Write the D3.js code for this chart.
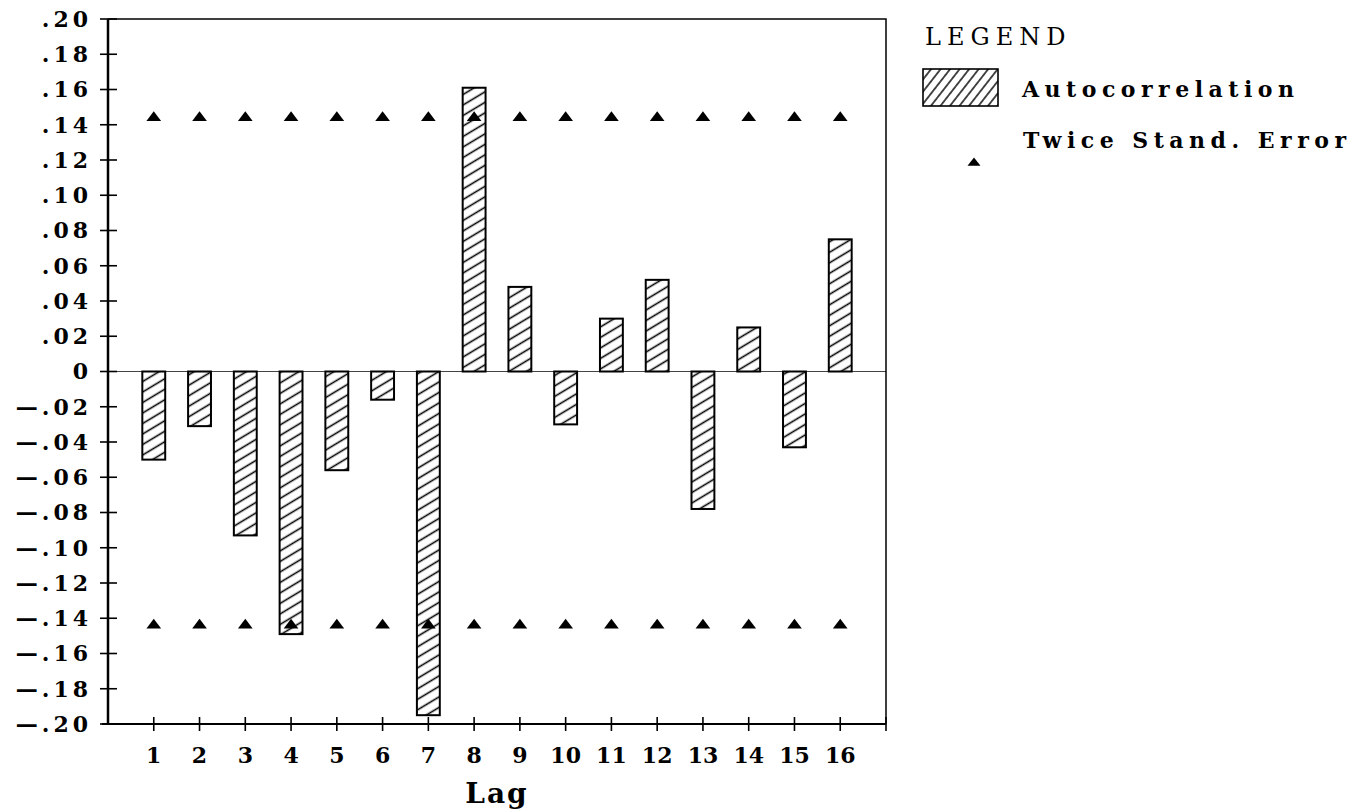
<!DOCTYPE html>
<html>
<head>
<meta charset="utf-8">
<script src="https://cdn.jsdelivr.net/npm/d3@7"></script>
<style>
  body { margin: 0; background: #fff; }
  svg { display: block; }
  .tick-label { font-family: "DejaVu Serif", serif; font-weight: bold; font-size: 22px; fill: #000; }
</style>
</head>
<body>
<svg id="chart"></svg>
<script>
const lags = [1, 2, 3, 4, 5, 6, 7, 8, 9, 10, 11, 12, 13, 14, 15, 16];
const acf = [-0.050, -0.031, -0.093, -0.149, -0.056, -0.016, -0.195, 0.161,
             0.048, -0.030, 0.030, 0.052, -0.078, 0.025, -0.043, 0.075];
const twiceSE = [0.144, 0.144, 0.144, 0.144, 0.144, 0.144, 0.144, 0.144,
                 0.144, 0.144, 0.144, 0.144, 0.144, 0.144, 0.144, 0.144];
const yTicks = [0.20, 0.18, 0.16, 0.14, 0.12, 0.10, 0.08, 0.06, 0.04, 0.02, 0,
                -0.02, -0.04, -0.06, -0.08, -0.10, -0.12, -0.14, -0.16, -0.18, -0.20];

const W = 1370, H = 812;
const plot = { left: 108, right: 886, top: 19, bottom: 724 };

const svg = d3.select('#chart').attr('width', W).attr('height', H);

// hatch patterns
const defs = svg.append('defs');
defs.append('pattern')
    .attr('id', 'hatch')
    .attr('patternUnits', 'userSpaceOnUse')
    .attr('width', 9).attr('height', 9)
    .attr('patternTransform', 'rotate(-31)')
  .append('line')
    .attr('x1', -1).attr('x2', 10).attr('y1', 4.5).attr('y2', 4.5)
    .attr('stroke', '#000').attr('stroke-width', 1.6);
defs.append('pattern')
    .attr('id', 'hatch-legend')
    .attr('patternUnits', 'userSpaceOnUse')
    .attr('width', 7.5).attr('height', 7.5)
    .attr('patternTransform', 'rotate(-52)')
  .append('line')
    .attr('x1', -1).attr('x2', 9).attr('y1', 3.75).attr('y2', 3.75)
    .attr('stroke', '#000').attr('stroke-width', 1.4);

const x = d3.scaleLinear().domain([0, 17]).range([plot.left, plot.right]);
const y = d3.scaleLinear().domain([-0.20, 0.20]).range([plot.bottom, plot.top]);
const barW = (x(1) - x(0)) * 0.5;

// zero line
svg.append('line')
    .attr('x1', plot.left).attr('x2', plot.right)
    .attr('y1', y(0)).attr('y2', y(0))
    .attr('stroke', '#444').attr('stroke-width', 1);

// bars
svg.selectAll('.bar')
    .data(lags)
    .enter()
    .append('rect')
    .attr('class', 'bar')
    .attr('x', d => x(d) - barW / 2)
    .attr('width', barW)
    .attr('y', (d, i) => y(Math.max(0, acf[i])))
    .attr('height', (d, i) => Math.abs(y(acf[i]) - y(0)))
    .attr('fill', 'url(#hatch)')
    .attr('stroke', '#000')
    .attr('stroke-width', 2);

// twice standard error markers
const tri = d3.symbol().type(d3.symbolTriangle).size(85);
[1, -1].forEach(sign => {
    svg.selectAll('.se' + (sign > 0 ? 'p' : 'n'))
        .data(lags)
        .enter()
        .append('path')
        .attr('class', 'se' + (sign > 0 ? 'p' : 'n'))
        .attr('d', tri)
        .attr('transform', (d, i) => `translate(${x(d)},${y(sign * twiceSE[i])}) scale(1.05,0.8)`)
        .attr('fill', '#000');
});

// frame
svg.append('path')
    .attr('d', `M${plot.left},${plot.top}H${plot.right}V${plot.bottom}`)
    .attr('fill', 'none').attr('stroke', '#000').attr('stroke-width', 1.5);
svg.append('line')
    .attr('x1', plot.left).attr('x2', plot.left).attr('y1', plot.top).attr('y2', plot.bottom)
    .attr('stroke', '#000').attr('stroke-width', 2.5);
svg.append('line')
    .attr('x1', plot.left - 6).attr('x2', plot.right).attr('y1', plot.bottom).attr('y2', plot.bottom)
    .attr('stroke', '#000').attr('stroke-width', 2);

// y axis ticks + labels
const yg = svg.append('g');
yg.selectAll('line')
    .data(yTicks)
    .enter()
    .append('line')
    .attr('x1', plot.left - 8).attr('x2', plot.left + 9)
    .attr('y1', d => y(d)).attr('y2', d => y(d))
    .attr('stroke', '#000').attr('stroke-width', 1.6);
yg.selectAll('text')
    .data(yTicks)
    .enter()
    .append('text')
    .attr('class', 'tick-label')
    .attr('x', 92)
    .attr('y', d => y(d))
    .attr('dy', '0.36em')
    .attr('text-anchor', 'end')
    .style('letter-spacing', '4px')
    .text(d => d === 0 ? '0' : (d < 0 ? '\u2014' : '') + d3.format('.2f')(Math.abs(d)).replace(/^0/, ''));

// x axis ticks + labels
const xg = svg.append('g');
xg.selectAll('line')
    .data(lags.concat([17]))
    .enter()
    .append('line')
    .attr('x1', d => x(d)).attr('x2', d => x(d))
    .attr('y1', plot.bottom - 7).attr('y2', plot.bottom + 7)
    .attr('stroke', '#000').attr('stroke-width', 1.6);
xg.selectAll('text')
    .data(lags)
    .enter()
    .append('text')
    .attr('class', 'tick-label')
    .attr('x', d => x(d))
    .attr('y', 763)
    .attr('text-anchor', 'middle')
    .text(d => d);

svg.append('text')
    .attr('x', (plot.left + plot.right) / 2)
    .attr('y', 803)
    .attr('text-anchor', 'middle')
    .style('font-family', '"DejaVu Serif", serif')
    .style('font-weight', 'bold')
    .style('font-size', '28px')
    .style('letter-spacing', '2px')
    .text('Lag');

// legend
const lg = svg.append('g');
lg.append('text')
    .attr('x', 925).attr('y', 45)
    .style('font-family', '"DejaVu Serif", serif')
    .style('font-size', '24px')
    .style('letter-spacing', '6px')
    .text('LEGEND');
lg.append('rect')
    .attr('x', 923).attr('y', 69).attr('width', 75).attr('height', 37)
    .attr('fill', 'url(#hatch-legend)')
    .attr('stroke', '#000').attr('stroke-width', 1.6);
lg.append('text')
    .attr('x', 1022).attr('y', 97)
    .style('font-family', '"DejaVu Serif", serif')
    .style('font-weight', 'bold')
    .style('font-size', '22px')
    .style('letter-spacing', '5.5px')
    .text('Autocorrelation');
lg.append('path')
    .attr('d', d3.symbol().type(d3.symbolTriangle).size(60))
    .attr('transform', 'translate(974,163) scale(1.1,0.8)')
    .attr('fill', '#000');
lg.append('text')
    .attr('x', 1023).attr('y', 148)
    .style('font-family', '"DejaVu Serif", serif')
    .style('font-weight', 'bold')
    .style('font-size', '22px')
    .style('letter-spacing', '5.5px')
    .text('Twice Stand. Error');
</script>
</body>
</html>
